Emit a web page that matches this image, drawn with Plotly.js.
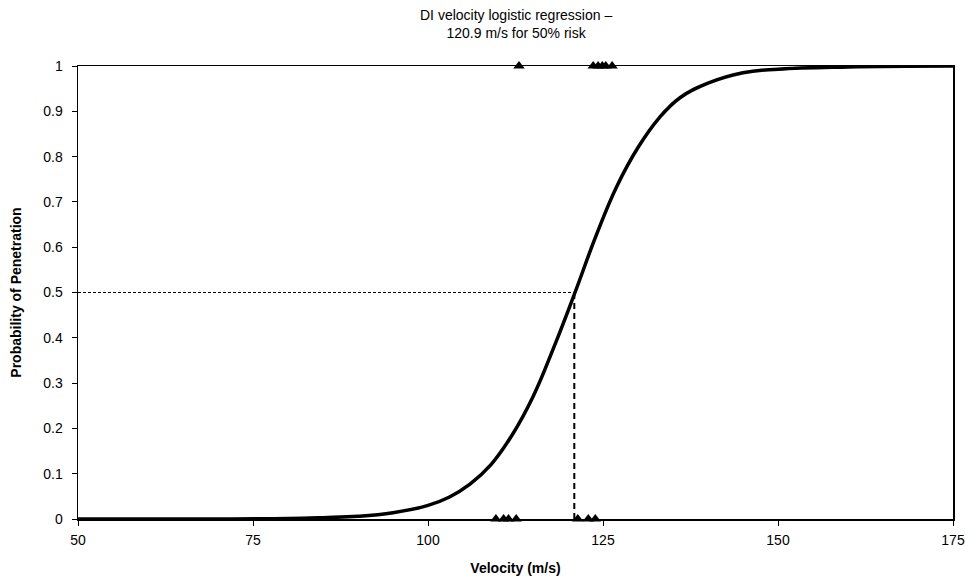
<!DOCTYPE html>
<html>
<head>
<meta charset="utf-8">
<script src="https://cdn.plot.ly/plotly-3.0.1.min.js"></script>
<style>html,body{margin:0;padding:0;background:#fff;}#chart{width:966px;height:582px;}</style>
</head>
<body>
<div id="chart"></div>
<script>
// Logistic curve
const curveVelocity = [50, 60, 70, 80, 85, 90, 95, 100, 103, 106, 109, 112, 115, 118, 121, 124, 127, 130, 133, 136, 140, 145, 150, 160, 175];
const curveProb     = [0.000, 0.000, 0.000, 0.001, 0.003, 0.006, 0.014, 0.030, 0.048, 0.077, 0.120, 0.185, 0.27, 0.38, 0.50, 0.625, 0.735, 0.82, 0.885, 0.93, 0.962, 0.985, 0.993, 0.998, 1.000];

// Observed outcomes
const penetrationVelocity = [113.0, 123.6, 124.3, 124.9, 125.4, 126.3];
const penetrationOutcome  = [1, 1, 1, 1, 1, 1];
const noPenVelocity = [109.7, 110.8, 111.5, 112.6, 121.4, 122.9, 123.9];
const noPenOutcome  = [0, 0, 0, 0, 0, 0, 0];

// 50% risk marker
const v50 = 120.9;
const p50 = 0.5;
const xMin = 50, xMax = 175;

const titleText = 'DI velocity logistic regression –<br>120.9 m/s for 50% risk';
const xTicks = [50, 75, 100, 125, 150, 175];
const yTicks = [0, 0.1, 0.2, 0.3, 0.4, 0.5, 0.6, 0.7, 0.8, 0.9, 1];
const yTickText = ['0', '0.1', '0.2', '0.3', '0.4', '0.5', '0.6', '0.7', '0.8', '0.9', '1'];

const traces = [
  {x: [xMin, v50], y: [p50, p50], mode: 'lines', line: {color: '#000', width: 1, dash: '3px,2px'}, hoverinfo: 'skip', cliponaxis: false},
  {x: [v50, v50], y: [0, p50], mode: 'lines', line: {color: '#000', width: 2, dash: '6px,4px'}, hoverinfo: 'skip', cliponaxis: false},
  {x: curveVelocity, y: curveProb, mode: 'lines', line: {color: '#000', width: 3.5, shape: 'spline', smoothing: 1.2}, cliponaxis: false},
  {x: penetrationVelocity, y: penetrationOutcome, mode: 'markers', marker: {symbol: 'triangle-up', size: 10, color: '#000'}, cliponaxis: false},
  {x: noPenVelocity, y: noPenOutcome, mode: 'markers', marker: {symbol: 'triangle-up', size: 10, color: '#000'}, cliponaxis: false}
];

const layout = {
  width: 966, height: 582,
  margin: {l: 78, r: 13, t: 66, b: 63},
  paper_bgcolor: '#fff', plot_bgcolor: '#fff',
  showlegend: false,
  font: {family: 'Liberation Sans, Arial, sans-serif', size: 14, color: '#000'},
  annotations: [{
    text: titleText, xref: 'paper', yref: 'paper', x: 0.5, y: 1, xanchor: 'center', yanchor: 'bottom',
    yshift: 23, showarrow: false, font: {size: 14, color: '#000'}
  }],
  xaxis: {
    range: [xMin, xMax], tickvals: xTicks, ticks: 'outside', ticklen: 5, tickcolor: '#000',
    ticklabelstandoff: 3,
    showgrid: false, zeroline: false, showline: true, linecolor: '#000', linewidth: 1.5, mirror: true,
    title: {text: '<b>Velocity (m/s)</b>', font: {size: 14}, standoff: 16}
  },
  yaxis: {
    range: [0, 1], tickvals: yTicks, ticktext: yTickText, ticks: 'outside', ticklen: 5, tickcolor: '#000',
    ticklabelstandoff: 6,
    showgrid: false, zeroline: false, showline: true, linecolor: '#000', linewidth: 1.5, mirror: true,
    title: {text: '<b>Probability of Penetration</b>', font: {size: 14}, standoff: 18}
  }
};

Plotly.newPlot('chart', traces, layout, {displayModeBar: false, staticPlot: true});
</script>
</body>
</html>
